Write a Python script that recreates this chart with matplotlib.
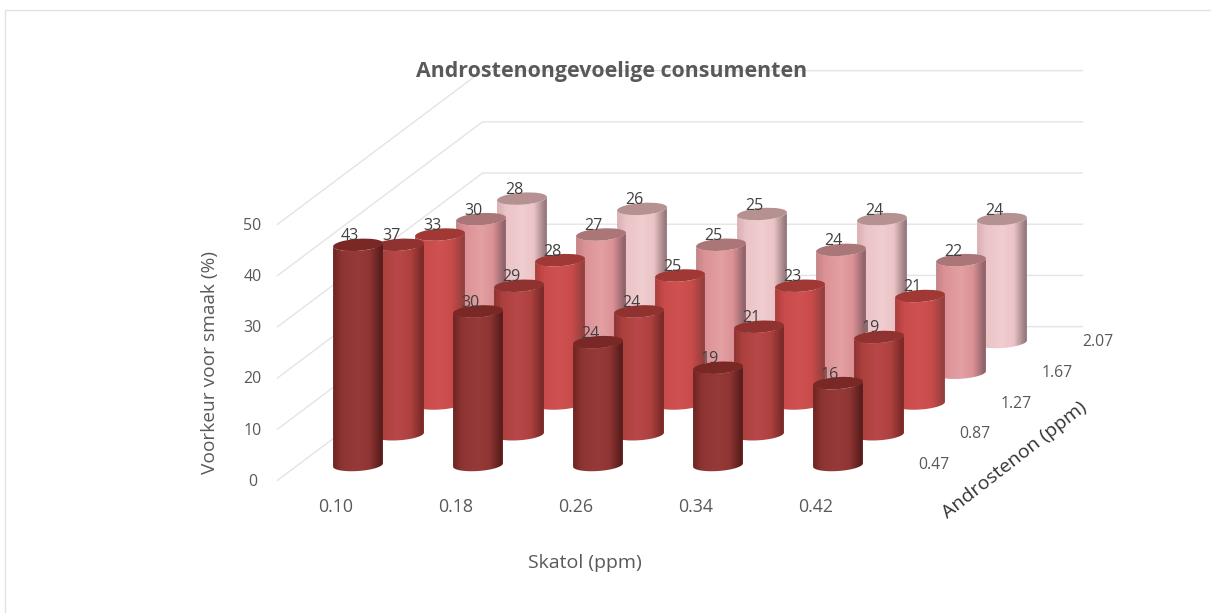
import numpy as np
import matplotlib
matplotlib.use("Agg")
import matplotlib.pyplot as plt
from matplotlib.colors import LinearSegmentedColormap
from matplotlib.patches import Ellipse, PathPatch
from matplotlib.path import Path

skatol = ["0.10", "0.18", "0.26", "0.34", "0.42"]
androstenon = ["0.47", "0.87", "1.27", "1.67", "2.07"]
value_ticks = [0, 10, 20, 30, 40, 50]
row_047 = [43, 30, 24, 19, 16]
row_087 = [37, 29, 24, 21, 19]
row_127 = [33, 28, 25, 23, 21]
row_167 = [30, 27, 25, 24, 22]
row_207 = [28, 26, 25, 24, 24]
rows = [row_047, row_087, row_127, row_167, row_207]

# (left edge, mid, light, right edge, cap) for each Androstenon row
row_colors = [
    ("#6e2422", "#8e3533", "#963a38", "#591d1b", "#7a2826"),
    ("#8e3331", "#ad413e", "#b8474a", "#7a2a28", "#8f3230"),
    ("#aa3e3c", "#c94b4a", "#d05151", "#93403e", "#a03836"),
    ("#c58488", "#dc9296", "#e3a0a3", "#90646a", "#ab7678"),
    ("#d9b0b3", "#ebc4c7", "#f0cdd0", "#98797d", "#b59192"),
]

W, H = 1211, 613
TEXT_DARK = "#404040"
TEXT_MID = "#595959"
GRID = "#e4e4e4"
FONT = "Open Sans"

fig = plt.figure(figsize=(W / 100, H / 100), dpi=100)
ax = fig.add_axes([0, 0, 1, 1])
ax.set_xlim(0, W)
ax.set_ylim(H, 0)
ax.axis("off")

OX, OY, SX, DX, DY, SV = 358, 465, 120, 41, 30.75, 5.12
RX, RY, TILT = 25, 6.0, -4.0


def proj(i, j, v=0.0):
    return OX + SX * i + DX * j, OY - DY * j - SV * v


# frame
ax.plot([5, 5, W], [H, 10, 10], color="#e2e2e2", lw=1, zorder=1)

# walls
n = len(skatol)
for v in value_ticks:
    xa, ya = proj(-0.5, -0.5, v)
    xb, yb = proj(-0.5, n - 0.5, v)
    xc, yc = proj(n - 0.5, n - 0.5, v)
    ax.plot([xa, xb, xc], [ya, yb, yc], color=GRID, lw=1, zorder=1)
    ax.text(xa - 25, ya + 1.5, str(v), ha="center", va="center", fontsize=11.5,
            color=TEXT_MID, family=FONT)


def cylinder(cx, cy_base, cy_top, cols, z):
    left, mid, light, right, cap = cols
    cmap = LinearSegmentedColormap.from_list(
        "c", [(0, left), (0.18, mid), (0.50, light),
              (0.74, mid), (0.97, right), (1, right)])
    t = np.radians(TILT)

    def ell(cy, a):
        return (cx + RX * np.cos(a) * np.cos(t) - RY * np.sin(a) * np.sin(t),
                cy + RX * np.cos(a) * np.sin(t) + RY * np.sin(a) * np.cos(t))

    a1 = np.linspace(np.pi, 0, 40)   # upper side of the cap
    a2 = np.linspace(0, np.pi, 40)   # lower side of the base
    xs = np.r_[ell(cy_top, a1)[0], ell(cy_base, a2)[0]]
    ys = np.r_[ell(cy_top, a1)[1], ell(cy_base, a2)[1]]
    path = Path(np.c_[xs, ys])
    img = ax.imshow(np.linspace(0, 1, 100)[None, :], cmap=cmap, aspect="auto",
                    extent=[cx - RX, cx + RX, cy_base + RY + 3, cy_top - RY - 3],
                    zorder=z, interpolation="bilinear")
    clip = PathPatch(path, transform=ax.transData, fc="none", ec="none")
    ax.add_patch(clip)
    img.set_clip_path(clip)
    ax.add_patch(Ellipse((cx, cy_top), 2 * RX, 2 * RY, angle=TILT, fc=cap,
                         ec="none", zorder=z + 0.1))


z = 5
for j in reversed(range(n)):
    for i in range(n):
        v = rows[j][i]
        cx, yb = proj(i, j)
        _, yt = proj(i, j, v)
        cylinder(cx, yb, yt, row_colors[j], z)
        z += 1

for j in range(n):
    for i in range(n):
        v = rows[j][i]
        cx, yt = proj(i, j, v)
        ax.text(cx - 8, yt - 8.5, str(v), ha="center", va="center", fontsize=11.5,
                color=TEXT_DARK, family=FONT, zorder=100)

for i, s in enumerate(skatol):
    x, _ = proj(i, 0)
    ax.text(x - 22, 507, s, ha="center", va="center", fontsize=12.8,
            color=TEXT_MID, family=FONT)
for j, s in enumerate(androstenon):
    x, y = proj(n - 0.5, j)
    ax.text(x + 36, y, s, ha="center", va="center", fontsize=11.3,
            color=TEXT_MID, family=FONT)

ax.text(612, 71.5, "Androstenongevoelige consumenten", ha="center", va="center",
        fontsize=15.4, fontweight="bold", color=TEXT_MID, family=FONT, zorder=101)
ax.text(210.5, 363, "Voorkeur voor smaak (%)", rotation=90, ha="center", va="center",
        fontsize=13.8, color=TEXT_MID, family=FONT)
ax.text(585, 563.5, "Skatol (ppm)", ha="center", va="center", fontsize=14,
        color=TEXT_MID, family=FONT)
ax.text(1015, 460, "Androstenon (ppm)", rotation=38, ha="center", va="center",
        rotation_mode="anchor", fontsize=14, color="#333333", family=FONT)

ax.set_xlim(0, W)
ax.set_ylim(H, 0)
fig.savefig("out.png", dpi=100, facecolor="white")
